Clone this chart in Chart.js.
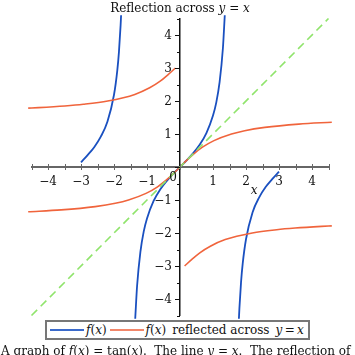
<!DOCTYPE html>
<html>
<head>
<meta charset="utf-8">
<script src="https://cdn.jsdelivr.net/npm/chart.js@4.4.0/dist/chart.umd.min.js"></script>
<style>
  html, body { margin: 0; padding: 0; background: #fff; }
  #wrap { position: relative; width: 355px; height: 355px; overflow: hidden; font-family: "DejaVu Serif", serif; color: #111; }
  #c { position: absolute; left: 0; top: 0; }
  #title { position: absolute; top: 0px; left: 0; width: 360px; text-align: center; font-size: 12px; line-height: 16px; white-space: nowrap; }
  #legend { position: absolute; left: 45px; top: 320px; width: 261px; height: 16px; border: 2px solid #777; font-size: 12px; line-height: 16px; white-space: nowrap; background: #fff; overflow: hidden; }
  #legend .ln { display: inline-block; width: 34px; height: 0; border-top: 2px solid; vertical-align: middle; margin: 0 2px 0 3px; position: relative; top: -1px; }
  #legend .sp { display: inline-block; width: 6px; }
  #caption { position: absolute; left: 1px; top: 343px; font-size: 12px; line-height: 16px; white-space: nowrap; }
  i { font-style: italic; }
</style>
</head>
<body>
<div id="wrap">
  <canvas id="c" width="355" height="355"></canvas>
  <div id="title">Reflection across <i>y</i> = <i>x</i></div>
  <div id="legend"><span class="ln" style="border-color:#3a6acb"></span><i>f</i>(<i>x</i>)<span class="ln" style="border-color:#f2876a"></span><i>f</i>(<i>x</i>)<span class="sp"></span>reflected across<span class="sp"></span><i>y</i>&#8201;=&#8201;<i>x</i></div>
  <div id="caption">A graph of <i>f</i>(<i>x</i>) = tan(<i>x</i>). &nbsp;The line <i>y</i> = <i>x</i>. &nbsp;The reflection of <i>f</i>(<i>x</i>) across <i>y</i> = <i>x</i>.</div>
</div>
<script>
const branch1X = [-3.0, -2.8, -2.6, -2.4, -2.2, -2.0, -1.9, -1.85, -1.8, -1.785];
const branch1Y = [0.14, 0.36, 0.60, 0.92, 1.37, 2.19, 2.93, 3.49, 4.29, 4.6];
const branch2X = [-1.357, -1.3, -1.2, -1.1, -1.0, -0.8, -0.6, -0.4, -0.2, 0, 0.2, 0.4, 0.6, 0.8, 1.0, 1.1, 1.2, 1.3, 1.357];
const branch2Y = [-4.6, -3.60, -2.57, -1.96, -1.56, -1.03, -0.68, -0.42, -0.20, 0, 0.20, 0.42, 0.68, 1.03, 1.56, 1.96, 2.57, 3.60, 4.6];
const branch3X = [1.785, 1.8, 1.85, 1.9, 2.0, 2.2, 2.4, 2.6, 2.8, 3.0];
const branch3Y = [-4.6, -4.29, -3.49, -2.93, -2.19, -1.37, -0.92, -0.60, -0.36, -0.14];
// line y = x
const lineX = [-4.5, 4.5];
const lineY = [-4.5, 4.5];
// axis ticks
const axisMin = -4.5, axisMax = 4.5, tickStep = 0.5;

const pts = (xs, ys) => xs.map((x, i) => ({x: x, y: ys[i]}));
const swap = (xs, ys) => xs.map((x, i) => ({x: ys[i], y: x}));

const BLUE = '#1a50c0', ORANGE = '#f0643c', GREEN = '#90e46c';
const base = {showLine: true, pointRadius: 0, pointHoverRadius: 0, fill: false, clip: false, cubicInterpolationMode: 'monotone'};

const datasets = [
  Object.assign({}, base, {data: pts(lineX, lineY), borderColor: GREEN, borderWidth: 1.6, borderDash: [8, 5], cubicInterpolationMode: 'default'}),
  Object.assign({}, base, {data: swap(branch1X, branch1Y), borderColor: ORANGE, borderWidth: 1.6}),
  Object.assign({}, base, {data: swap(branch2X, branch2Y), borderColor: ORANGE, borderWidth: 1.6}),
  Object.assign({}, base, {data: swap(branch3X, branch3Y), borderColor: ORANGE, borderWidth: 1.6}),
  Object.assign({}, base, {data: pts(branch1X, branch1Y), borderColor: BLUE, borderWidth: 1.8}),
  Object.assign({}, base, {data: pts(branch2X, branch2Y), borderColor: BLUE, borderWidth: 1.8}),
  Object.assign({}, base, {data: pts(branch3X, branch3Y), borderColor: BLUE, borderWidth: 1.8}),
];

const fmt = v => {
  const r = Math.round(v);
  if (Math.abs(v - r) > 1e-6 || r === 0) return '';
  return r < 0 ? '\u2212' + (-r) : String(r);
};

const tickFont = {family: 'DejaVu Serif', size: 12};

const decor = {
  id: 'decor',
  afterDraw(chart) {
    const ctx = chart.ctx, xs = chart.scales.x, ys = chart.scales.y;
    const x0 = xs.getPixelForValue(0), y0 = ys.getPixelForValue(0);
    ctx.save();
    // x-axis tick marks
    ctx.strokeStyle = '#666'; ctx.lineWidth = 1;
    xs.ticks.forEach(t => {
      const px = Math.round(xs.getPixelForValue(t.value)) + 0.5;
      ctx.beginPath(); ctx.moveTo(px, y0 - 3); ctx.lineTo(px, y0 + 3); ctx.stroke();
    });
    // y-axis tick marks and labels
    ctx.strokeStyle = '#111';
    ctx.fillStyle = '#111';
    ctx.font = '12px "DejaVu Serif"';
    ctx.textAlign = 'right'; ctx.textBaseline = 'middle';
    ys.ticks.forEach(t => {
      const v = t.value;
      const py = Math.round(ys.getPixelForValue(v)) + 0.5;
      const major = Math.abs(v - Math.round(v)) < 1e-6;
      ctx.beginPath(); ctx.moveTo(x0 - (major ? 5 : 3), py); ctx.lineTo(x0, py); ctx.stroke();
      const lab = fmt(v);
      if (lab) ctx.fillText(lab, x0 - 8, py);
    });
    // origin label and x-axis name
    ctx.textAlign = 'center';
    ctx.fillText('0', x0 - 7, y0 + 11);
    ctx.font = 'italic 12px "DejaVu Serif"';
    ctx.fillText('x', xs.getPixelForValue(2.25), y0 + 24);
    ctx.restore();
  }
};

new Chart(document.getElementById('c'), {
  type: 'scatter',
  data: {datasets: datasets},
  options: {
    responsive: false,
    devicePixelRatio: 1,
    animation: false,
    events: [],
    layout: {padding: {left: 31.5, right: 26.5, top: 18.5, bottom: 39.5}},
    plugins: {legend: {display: false}, tooltip: {enabled: false}, title: {display: false}},
    scales: {
      x: {
        type: 'linear', min: axisMin, max: axisMax,
        position: {y: 0},
        grid: {display: false},
        border: {display: true, color: '#666', width: 2},
        ticks: {stepSize: tickStep, autoSkip: false, maxRotation: 0, padding: 0, color: '#111', font: tickFont, callback: fmt}
      },
      y: {
        type: 'linear', min: axisMin, max: axisMax,
        position: {x: 0},
        grid: {display: false},
        border: {display: true, color: '#111', width: 1.5},
        ticks: {stepSize: tickStep, autoSkip: false, display: false, callback: fmt}
      }
    }
  },
  plugins: [decor]
});
</script>
</body>
</html>
